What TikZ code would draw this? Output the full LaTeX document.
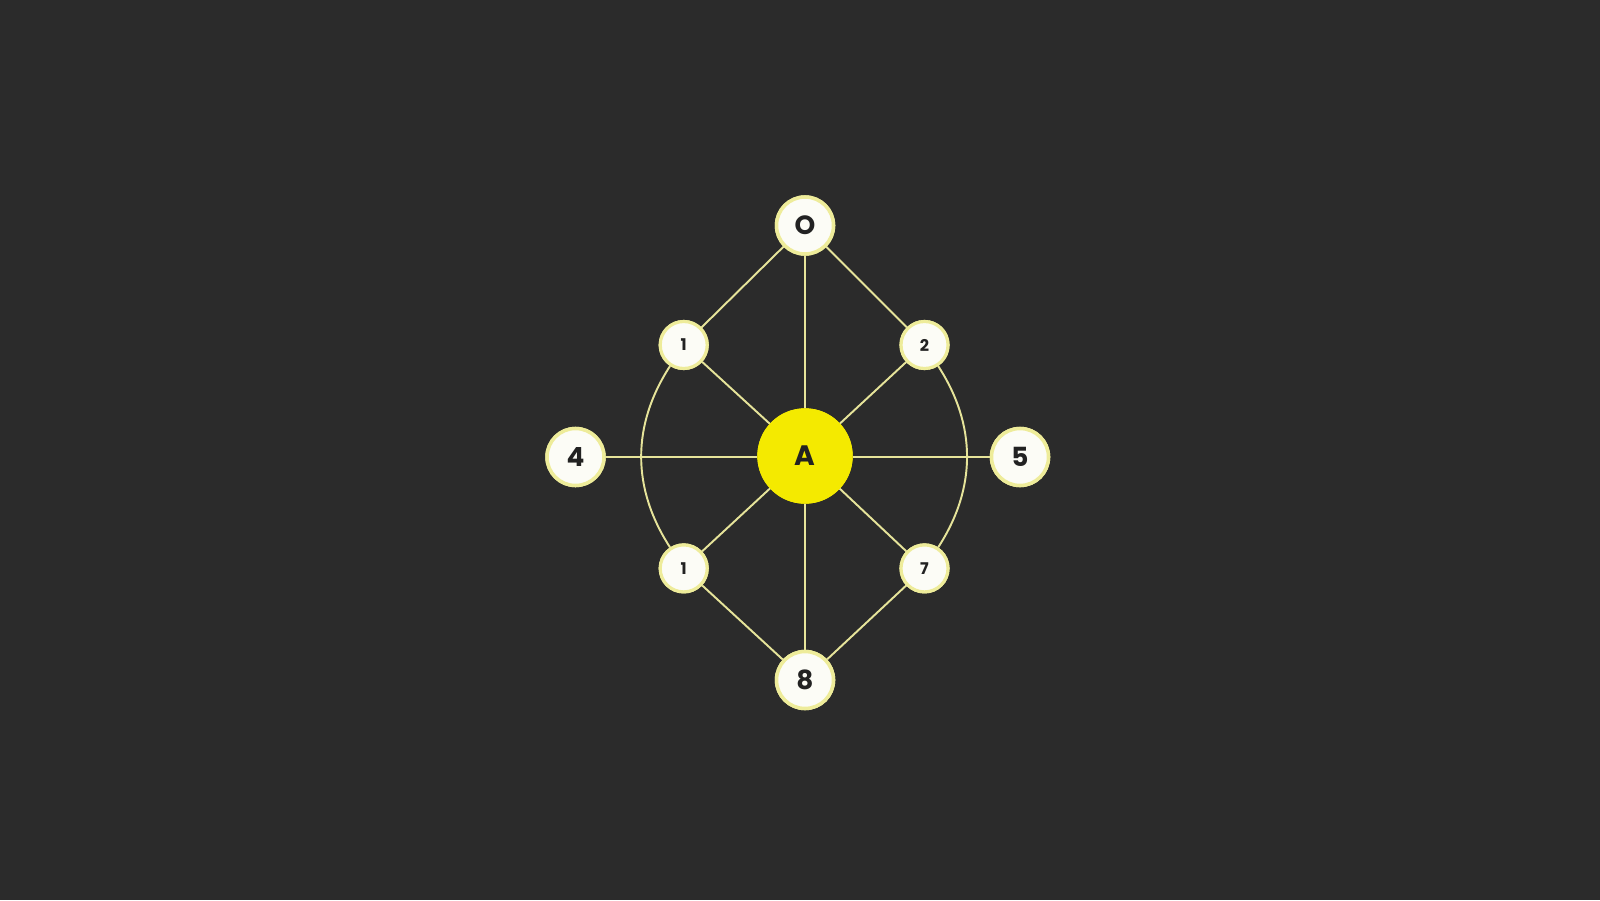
\documentclass[tikz,border=0pt]{standalone}
\usepackage{fontspec}
\setmainfont{Poppins}
\begin{document}
\definecolor{bg}{HTML}{2B2B2B}
\definecolor{edge}{HTML}{E6E49A}
\definecolor{nodefill}{HTML}{FCFCF6}
\definecolor{nodering}{HTML}{EEEC9A}
\definecolor{hub}{HTML}{F4EA00}
\definecolor{txt}{HTML}{222222}
\begin{tikzpicture}[
  big/.style={circle,fill=nodefill,draw=nodering,line width=1pt,minimum size=0.57cm,inner sep=0pt,text=txt,font=\bfseries\fontsize{7.5}{7.5}\selectfont},
  small/.style={circle,fill=nodefill,draw=nodering,line width=0.9pt,minimum size=0.47cm,inner sep=0pt,text=txt,font=\bfseries\fontsize{4.6}{4.6}\selectfont},
  hubnode/.style={circle,fill=hub,draw=hub,minimum size=0.94cm,inner sep=0pt,text=txt,font=\bfseries\fontsize{8}{8}\selectfont},
  link/.style={draw=edge,line width=0.55pt}
]
\fill[bg] (0,0) rectangle (16,9);
\useasboundingbox (0,0) rectangle (16,9);
\node[hubnode] (A) at (8.05,4.44) {A};
\node[big] (O) at (8.05,6.745) {O};
\node[big] (E) at (8.05,2.20) {8};
\node[big] (F) at (5.755,4.43) {4};
\node[big] (V) at (10.20,4.43) {5};
\node[small] (a) at (6.837,5.55) {1};
\node[small] (b) at (9.245,5.55) {2};
\node[small] (c) at (6.837,3.316) {1};
\node[small] (d) at (9.245,3.316) {7};
\path[link] (O) -- (a) (O) -- (b) (O) -- (A)
  (a) -- (A) (b) -- (A) (c) -- (A) (d) -- (A) (A) -- (E) (c) -- (E) (d) -- (E);
\path[link] (F) -- (F -| A.west) (V) -- (V -| A.east);
\path[link] (a) to[bend right=33] (c);
\path[link] (b) to[bend left=33] (d);
\node[hubnode] at (A) {A};
\node[big] at (O) {O};
\node[big] at (E) {8};
\node[big] at (F) {4};
\node[big] at (V) {5};
\node[small] at (a) {1};
\node[small] at (b) {2};
\node[small] at (c) {1};
\node[small] at (d) {7};
\end{tikzpicture}
\end{document}
